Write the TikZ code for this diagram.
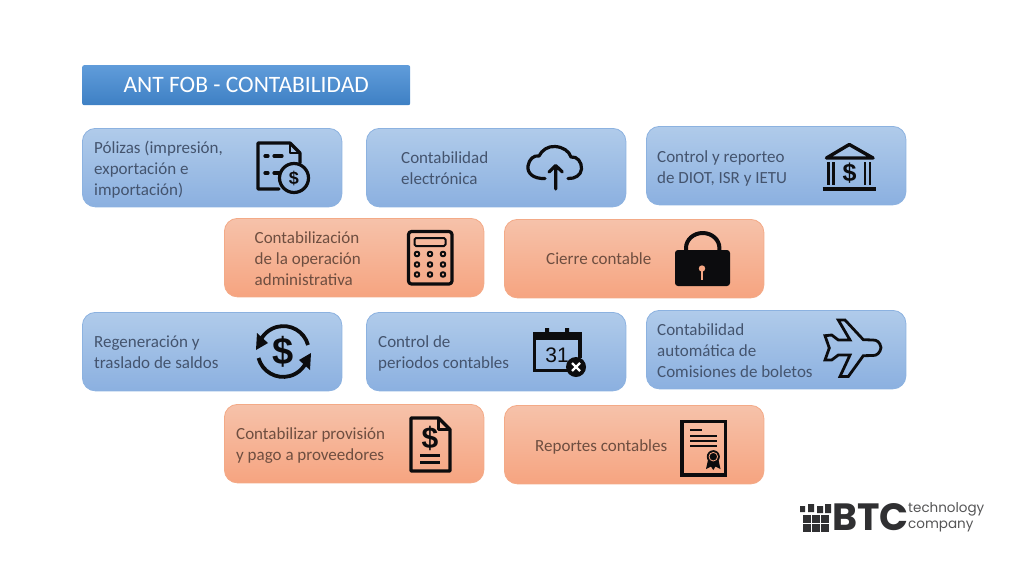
\documentclass[tikz,border=0pt]{standalone}
\usepackage{fontspec}
\setmainfont{Carlito}
\newfontfamily\logofont{Poppins}
\newfontfamily\usdfont{Liberation Sans}
\usepackage{tikz}
\usetikzlibrary{positioning}
\definecolor{bluetop}{RGB}{176,203,234}
\definecolor{bluebot}{RGB}{139,176,224}
\definecolor{blueline}{RGB}{140,178,224}
\definecolor{orangetop}{RGB}{246,194,170}
\definecolor{orangebot}{RGB}{246,164,128}
\definecolor{orangeline}{RGB}{243,170,135}
\definecolor{titletop}{RGB}{96,156,218}
\definecolor{titlebot}{RGB}{62,128,196}
\definecolor{bluetext}{RGB}{68,84,110}
\definecolor{orangetext}{RGB}{110,78,64}
\definecolor{icon}{RGB}{12,12,14}
\tikzset{
  bluebox/.style={draw=blueline,line width=0.8pt,rounded corners=13pt,top color=bluetop,bottom color=bluebot,minimum width=259.5pt,minimum height=78.5pt,inner sep=0pt,anchor=north west},
  orangebox/.style={draw=orangeline,line width=0.8pt,rounded corners=13pt,top color=orangetop,bottom color=orangebot,minimum width=259.5pt,minimum height=78.5pt,inner sep=0pt,anchor=north west},
  boxtext/.style={anchor=west,align=left,inner sep=0pt,font=\fontsize{17}{21}\selectfont},
  iconline/.style={draw=icon,line width=3.2pt,line cap=round,line join=round},
  iconthin/.style={draw=icon,line width=2pt,line cap=round,line join=round},
  usd/.style={text=icon,inner sep=0pt,font=\usdfont\bfseries\fontsize{#1}{#1}\selectfont}
}
\begin{document}
\begin{tikzpicture}[x=1pt,y=-1pt]
\useasboundingbox (0,0) rectangle (1024,576);
% title
\node (title) [anchor=north west,minimum width=328pt,minimum height=40pt,inner sep=0pt,rounded corners=2pt,top color=titletop,bottom color=titlebot,text=white,font=\fontsize{23.5}{26}\selectfont] at (82,65) {ANT FOB - CONTABILIDAD};
% boxes
\foreach \name/\x/\y in {polizas/82/128,electronica/366/128,diot/646/126,regeneracion/82/312,periodos/366/312,comisiones/646/310}
\node (\name) [bluebox] at (\x,\y) {};
\foreach \name/\x/\y in {administrativa/224/218,cierre/504/219,provision/224/404,reportes/504/405}
\node (\name) [orangebox] at (\x,\y) {};
% texts
\begin{scope}[text=bluetext]
\node (polizastxt) [boxtext] at (94,169.5) {Pólizas (impresión,\\exportación e\\importación)};
\node (electronicatxt) [boxtext] at (401,168.5) {Contabilidad\\electrónica};
\node (diottxt) [boxtext] at (657,168) {Control y reporteo\\de DIOT, ISR y IETU};
\node (regeneraciontxt) [boxtext] at (94,352) {Regeneración y\\traslado de saldos};
\node (periodostxt) [boxtext] at (378,353) {Control de\\periodos contables};
\node (comisionestxt) [boxtext] at (657,350.5) {Contabilidad\\automática de\\Comisiones de boletos};
\end{scope}
\begin{scope}[text=orangetext]
\node (administrativatxt) [boxtext] at (254.5,258.5) {Contabilización\\de la operación\\administrativa};
\node (cierretxt) [boxtext] at (546,259) {Cierre contable};
\node (provisiontxt) [boxtext] at (236,446) {Contabilizar provisión\\y pago a proveedores};
\node (reportestxt) [boxtext] at (535,447) {Reportes contables};
\end{scope}
% icon polizas
\draw[iconline] (279,189) -- (258,189) -- (258,143) -- (290,143) -- (300,153) -- (300,163);
\draw[iconline,line width=2.2pt] (290,143) -- (290,153) -- (300,153);
\draw[iconline] (265,156) -- (268,156) (274,156) -- (282,156) (265,173) -- (268,173) (274,173) -- (279,173);
\draw[iconline] (294,178) circle (14.5);
\node (polizasusd) [usd=18] at (294,178) {\$};
% icon cloud
\draw[iconline] (545,178.5) .. controls (533,179) and (527,173) .. (528,166) .. controls (529,159) and (534,155) .. (539,156) .. controls (542,150) and (548,146) .. (555,146.5) .. controls (563,147) and (569,151) .. (571,157) .. controls (577,156) and (582,162) .. (581.5,169) .. controls (581,175) and (575,179) .. (568,178.5);
\draw[iconline] (555.7,189) -- (555.7,166) (549,172) -- (555.7,165.5) -- (562.3,172);
% icon bank
\draw[iconline,line width=3.4pt] (849.3,144.5) -- (826.5,158) -- (873,158) -- cycle;
\draw[iconline,line width=2.8pt,line cap=butt] (828.5,162) -- (828.5,185) (833.5,162) -- (833.5,185) (865,162) -- (865,185) (870,162) -- (870,185);
\draw[iconline,line cap=butt] (822.5,189) -- (876,189);
\node (bankusd) [usd=25] at (849.5,173) {\$};
% icon calculator
\draw[iconline,rounded corners=3pt] (408.5,231.5) rectangle (452,284);
\draw[iconthin,rounded corners=1.5pt] (414.5,238) rectangle (445.5,246);
\foreach \bx in {417,430,443}
\foreach \by in {254,264.5,274.5}
\draw[iconthin] (\bx,\by) circle (2.3);
% icon lock
\fill[icon,rounded corners=3pt] (675,250) rectangle (730,286);
\draw[iconline,line width=4pt,line cap=butt] (686,251) -- (686,248) arc (180:360:16.7 and 15) -- (719.4,251);
\fill[orangebot!90!orangetop] (702,268.5) circle (3.2);
\draw[orangebot!90!orangetop,line width=2.6pt] (702,268.5) -- (702,280);
% icon regeneracion
\draw[iconline,line width=3.8pt,line cap=butt] (308,345) arc (345:202:25.5);
\fill[icon] (256,350) -- (268,343) -- (257,333) -- cycle;
\draw[iconline,line width=3.8pt,line cap=butt] (258.5,358) arc (165:22:25.5);
\fill[icon] (311,353) -- (299,360) -- (310,370) -- cycle;
\node (regenusd) [usd=38] at (283.3,351.5) {\$};
% icon calendar
\draw[iconline,line width=3.6pt,line cap=butt,line join=miter] (571,370.5) -- (534.5,370.5) -- (534.5,334) -- (580,334) -- (580,358);
\fill[icon] (533,332.5) rectangle (581,340);
\fill[icon] (545,328) rectangle (549,336) (565,328) rectangle (569,336);
\node (caltxt) [font=\usdfont\fontsize{21}{21}\selectfont,text=icon,inner sep=0pt] at (557,355) {31};
\fill[icon] (576,367) circle (10);
\draw[white,line width=2.2pt] (572,363) -- (580,371) (580,363) -- (572,371);
% icon plane
\draw[iconline,line width=2.8pt,miter limit=4,line join=miter] (881,347.7) .. controls (880,342) and (877,340) .. (873,340) -- (863.3,339.7) -- (845,320) -- (838.3,320) -- (850,340) -- (838.3,340) -- (831.7,335) -- (825,335.7) -- (829.3,348) -- (825,360) -- (831.7,360) -- (838.3,355) -- (850,355) -- (840,376.5) -- (848.3,376.5) -- (863.3,355.7) -- (873,355.5) .. controls (877,355.5) and (880,353) .. (881,347.7) -- cycle;
% icon provision
\draw[iconline] (438.5,418) -- (411,418) -- (411,471) -- (450,471) -- (450,429.5) -- cycle;
\draw[iconline,line width=2.2pt] (438.5,418) -- (438.5,429.5) -- (450,429.5);
\node (provisionusd) [usd=30] at (430,438) {\$};
\draw[iconline,line cap=butt] (420,455.7) -- (440,455.7) (420,462.7) -- (440,462.7);
% icon reportes
\draw[iconline,line width=3.4pt,line cap=butt,line join=miter] (682,421.5) rectangle (725.5,475);
\draw[iconthin,line cap=butt] (690,430) -- (702,430);
\draw[iconthin,line cap=butt] (690,435.7) -- (717,435.7) (690,440.7) -- (717,440.7) (690,445.7) -- (717,445.7);
\fill[icon] (708,460) -- (706,469) -- (711,466.5) -- (713.3,470) -- (715.5,466.5) -- (720.5,469) -- (718.5,460) -- cycle;
\draw[icon,line width=1pt,fill=icon] (713.3,456.7) circle (6);
\draw[orangebot,line width=0.8pt] (713.3,456.7) circle (4.3);
% logo
\foreach \lx/\ly in {807/519,816/519,825/519,807/528,816/528,825/528}
\fill[icon!85!white] (\lx-4,\ly-4) rectangle (\lx+4,\ly+4);
\fill[icon!85!white] (800,506) rectangle (805,512) (808,504) rectangle (814,512) (817,506) rectangle (823,513) (825,504) rectangle (831,513);
\node (logobtc) [anchor=west,inner sep=0pt,font=\logofont\bfseries\fontsize{38}{38}\selectfont,text=icon!85!white] at (832,517.5) {BTC};
\node (logotech) [anchor=west,align=left,inner sep=0pt,font=\logofont\fontsize{13.5}{16}\selectfont,text=icon!70!white] at (908,517.5) {technology\\company};
\end{tikzpicture}
\end{document}
